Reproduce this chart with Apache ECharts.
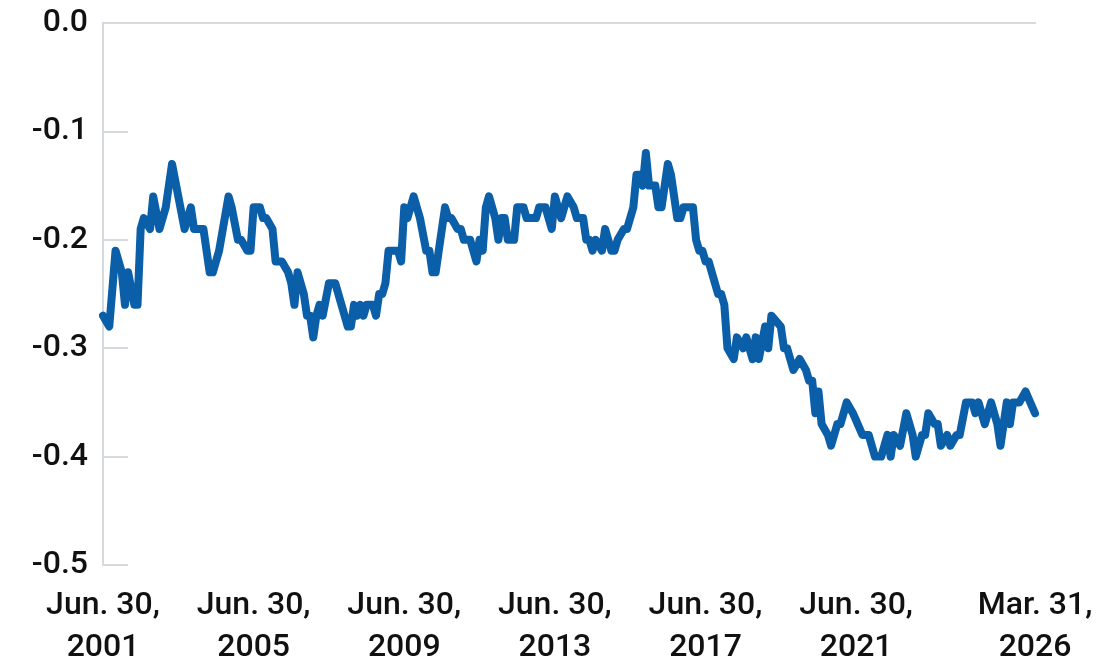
<!DOCTYPE html>
<html>
<head>
<meta charset="utf-8">
<script src="https://cdn.jsdelivr.net/npm/echarts@6/dist/echarts.min.js"></script>
<style>
  html, body { margin: 0; padding: 0; background: #fff; }
  #line { width: 1100px; height: 669px; }
</style>
</head>
<body>
<div id="line"></div>
<script>
// 月份序号（从 2001 年 6 月起算）和对应的数值
const months = [
  0, 2, 4, 6, 7, 8, 10, 11, 12, 13, 15, 16, 18, 20, 22, 26, 28, 29, 32, 34,
  35, 37, 40, 41, 43, 44, 46, 47, 48, 50, 51, 52, 54, 55, 57, 59, 60, 61, 62, 64,
  65, 66, 67, 68, 69, 70, 72, 74, 76, 78, 79, 80, 81, 82, 83, 84, 86, 87, 88, 89,
  90, 91, 94, 95, 96, 97, 99, 101, 103, 104, 105, 106, 107, 109, 110, 111, 113, 114, 115, 117,
  119, 120, 121, 122, 123, 125, 126, 127, 128, 129, 131, 132, 134, 135, 138, 139, 141, 143, 144, 146,
  148, 150, 151, 153, 154, 155, 156, 157, 159, 160, 162, 163, 164, 166, 167, 169, 170, 171, 172, 173,
  174, 176, 177, 178, 180, 181, 183, 184, 185, 188, 189, 190, 191, 192, 193, 196, 197, 198, 199, 201,
  202, 204, 205, 207, 208, 209, 211, 212, 213, 216, 217, 218, 219, 220, 222, 224, 225, 226, 227, 228,
  229, 231, 232, 234, 235, 237, 239, 242, 243, 244, 246, 248, 250, 251, 252, 254, 256, 258, 259, 261,
  262, 263, 265, 266, 267, 269, 270, 272, 273, 275, 277, 278, 279, 281, 283, 285, 286, 288, 289, 290,
  292, 294, 297
]
const values = [
  -0.27, -0.28, -0.21, -0.23, -0.26, -0.23, -0.26, -0.26, -0.19, -0.18, -0.19, -0.16, -0.19, -0.17, -0.13, -0.19, -0.17, -0.19, -0.19, -0.23,
  -0.23, -0.21, -0.16, -0.17, -0.20, -0.20, -0.21, -0.21, -0.17, -0.17, -0.18, -0.18, -0.19, -0.22, -0.22, -0.23, -0.24, -0.26, -0.23, -0.25,
  -0.27, -0.27, -0.29, -0.27, -0.26, -0.27, -0.24, -0.24, -0.26, -0.28, -0.28, -0.26, -0.27, -0.26, -0.27, -0.26, -0.26, -0.27, -0.25, -0.25,
  -0.24, -0.21, -0.21, -0.22, -0.17, -0.18, -0.16, -0.18, -0.21, -0.21, -0.23, -0.23, -0.21, -0.17, -0.18, -0.18, -0.19, -0.19, -0.20, -0.20,
  -0.22, -0.20, -0.21, -0.17, -0.16, -0.18, -0.20, -0.18, -0.18, -0.20, -0.20, -0.17, -0.17, -0.18, -0.18, -0.17, -0.17, -0.19, -0.16, -0.18,
  -0.16, -0.17, -0.18, -0.18, -0.20, -0.20, -0.21, -0.20, -0.21, -0.19, -0.21, -0.21, -0.20, -0.19, -0.19, -0.17, -0.14, -0.14, -0.15, -0.12,
  -0.15, -0.15, -0.17, -0.17, -0.13, -0.14, -0.18, -0.18, -0.17, -0.17, -0.20, -0.21, -0.21, -0.22, -0.22, -0.25, -0.25, -0.26, -0.30, -0.31,
  -0.29, -0.30, -0.29, -0.31, -0.29, -0.31, -0.28, -0.30, -0.27, -0.28, -0.30, -0.30, -0.31, -0.32, -0.31, -0.32, -0.33, -0.33, -0.36, -0.34,
  -0.37, -0.38, -0.39, -0.37, -0.37, -0.35, -0.36, -0.38, -0.38, -0.38, -0.40, -0.40, -0.38, -0.40, -0.38, -0.39, -0.36, -0.38, -0.40, -0.38,
  -0.38, -0.36, -0.37, -0.37, -0.39, -0.38, -0.39, -0.38, -0.38, -0.35, -0.35, -0.36, -0.35, -0.37, -0.35, -0.37, -0.39, -0.35, -0.37, -0.35,
  -0.35, -0.34, -0.36
]
// x轴刻度标签
const tickIdx = [0, 48, 96, 144, 192, 240, 297]
const tickLabels = [
  'Jun. 30,\n2001', 'Jun. 30,\n2005', 'Jun. 30,\n2009', 'Jun. 30,\n2013',
  'Jun. 30,\n2017', 'Jun. 30,\n2021', 'Mar. 31,\n2026'
]

// 类目：每月一个
const categories = []
for (let i = 0; i <= 297; i++) {
  const m = 5 + i
  categories.push((2001 + Math.floor(m / 12)) + '-' + String(m % 12 + 1).padStart(2, '0'))
}

const myChart = echarts.init(document.querySelector('#line'))
const gray = '#d6dade'
const option = {
  animation: false,
  textStyle: { fontFamily: 'Roboto' },
  grid: { left: 103, right: 65, top: 23, bottom: 103 },
  xAxis: [
    {
      type: 'category',
      boundaryGap: false,
      data: categories,
      axisLine: { lineStyle: { color: gray, width: 2 } },
      axisTick: { show: false },
      axisLabel: {
        interval: (i) => tickIdx.includes(i),
        formatter: (v, i) => tickLabels[tickIdx.indexOf(i)] || '',
        color: '#111',
        fontSize: 32,
        fontWeight: 500,
        lineHeight: 42,
        margin: 20
      }
    },
    {
      // 顶部的线
      type: 'category',
      position: 'top',
      data: categories,
      axisLine: { lineStyle: { color: gray, width: 2 } },
      axisTick: { show: false },
      axisLabel: { show: false }
    }
  ],
  yAxis: {
    type: 'value',
    min: -0.5,
    max: 0,
    interval: 0.1,
    axisLine: { show: true, lineStyle: { color: gray, width: 2 } },
    axisTick: { show: true, inside: true, length: 25, lineStyle: { color: gray, width: 2 } },
    splitLine: { show: false },
    axisLabel: {
      formatter: (v) => v.toFixed(1),
      color: '#111',
      fontSize: 32,
      fontWeight: 500,
      margin: 15
    }
  },
  series: [
    {
      type: 'line',
      data: months.map((m, i) => [m, values[i]]),
      showSymbol: false,
      lineStyle: { color: '#0b5ea8', width: 8, cap: 'round', join: 'round' }
    }
  ]
}
myChart.setOption(option)
</script>
</body>
</html>
